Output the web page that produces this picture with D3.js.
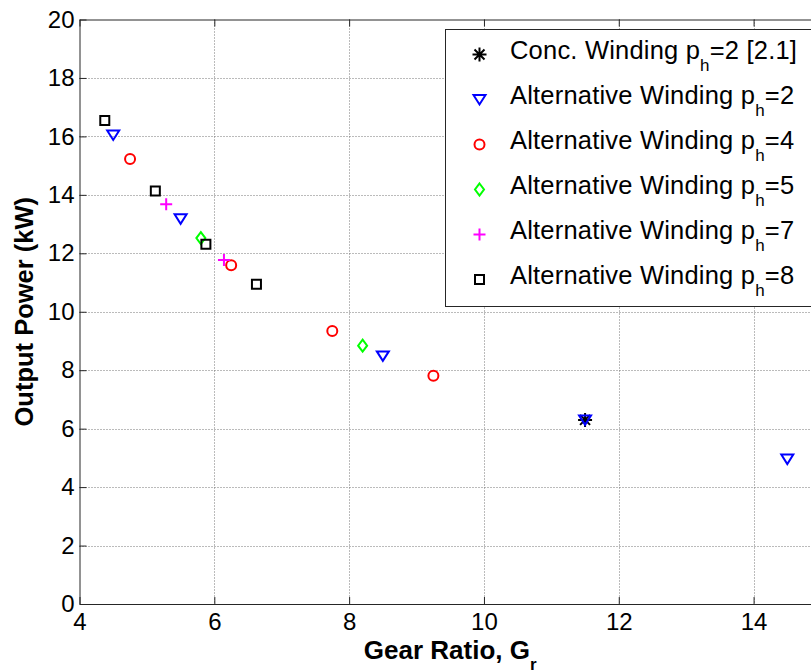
<!DOCTYPE html>
<html>
<head>
<meta charset="utf-8">
<script src="https://cdn.jsdelivr.net/npm/d3@7"></script>
<style>
  body { margin: 0; background: #fff; }
  svg { display: block; font-family: "Liberation Sans", Arial, sans-serif; }
</style>
</head>
<body>
<svg id="chart" width="811" height="671"></svg>
<script>
// data
const concX = [11.5], concY = [6.3];
const ph2X = [4.5, 5.5, 8.5, 11.5, 14.5], ph2Y = [16.05, 13.18, 8.49, 6.3, 4.96];
const ph4X = [4.75, 6.25, 7.75, 9.25], ph4Y = [15.23, 11.59, 9.34, 7.81];
const ph5X = [5.8, 8.2], ph5Y = [12.52, 8.84];
const ph7X = [5.286, 6.143], ph7Y = [13.68, 11.77];
const ph8X = [4.375, 5.125, 5.875, 6.625], ph8Y = [16.54, 14.13, 12.31, 10.94];
const xTicks = [4, 6, 8, 10, 12, 14];
const yTicks = [0, 2, 4, 6, 8, 10, 12, 14, 16, 18, 20];

const series = [
  { name: 'Conc. Winding p', sub: 'h', tail: '=2 [2.1]', xs: concX, ys: concY, mark: 'star', color: '#000' },
  { name: 'Alternative Winding p', sub: 'h', tail: '=2', xs: ph2X, ys: ph2Y, mark: 'tri', color: '#0000ff' },
  { name: 'Alternative Winding p', sub: 'h', tail: '=4', xs: ph4X, ys: ph4Y, mark: 'circle', color: '#ff0000' },
  { name: 'Alternative Winding p', sub: 'h', tail: '=5', xs: ph5X, ys: ph5Y, mark: 'diamond', color: '#00ff00' },
  { name: 'Alternative Winding p', sub: 'h', tail: '=7', xs: ph7X, ys: ph7Y, mark: 'plus', color: '#ff00ff' },
  { name: 'Alternative Winding p', sub: 'h', tail: '=8', xs: ph8X, ys: ph8Y, mark: 'square', color: '#000' }
];

const svg = d3.select('#chart');
const pLeft = 79.5, pTop = 19.5, pBottom = 604, pRight = 821;

const x = d3.scaleLinear().domain([4, 15]).range([pLeft, pRight]);
const y = d3.scaleLinear().domain([0, 20]).range([pBottom, pTop]);

// grid
const grid = svg.append('g').attr('stroke', '#777').attr('stroke-width', 1).attr('stroke-dasharray', '1,2');
grid.selectAll('.gx').data(xTicks.slice(1)).enter().append('line')
  .attr('x1', d => Math.round(x(d)) + 0.5).attr('x2', d => Math.round(x(d)) + 0.5)
  .attr('y1', pTop).attr('y2', pBottom);
grid.selectAll('.gy').data(yTicks.slice(1, -1)).enter().append('line')
  .attr('y1', d => Math.round(y(d)) + 0.5).attr('y2', d => Math.round(y(d)) + 0.5)
  .attr('x1', pLeft).attr('x2', pRight);

// axes
const axisColor = '#262626';
const gx = svg.append('g').attr('transform', 'translate(0,' + pBottom + ')')
  .call(d3.axisBottom(x).tickValues(xTicks).tickSizeInner(-7).tickSizeOuter(0).tickPadding(12));
const gxTop = svg.append('g').attr('transform', 'translate(0,' + pTop + ')')
  .call(d3.axisTop(x).tickValues(xTicks).tickSizeInner(-7).tickSizeOuter(0).tickFormat(''));
const gy = svg.append('g').attr('transform', 'translate(' + pLeft + ',0)')
  .call(d3.axisLeft(y).tickValues(yTicks).tickSizeInner(-7).tickSizeOuter(0).tickPadding(12));

[gx, gxTop, gy].forEach(g => {
  g.select('.domain').attr('stroke', axisColor);
  g.selectAll('.tick line').attr('stroke', axisColor);
  g.selectAll('text').attr('fill', '#000').style('font-size', '24px')
    .style('font-family', '"Liberation Sans", Arial, sans-serif');
});
gx.selectAll('text').attr('dy', '0.71em').attr('y', 9);
gy.selectAll('text').attr('x', -5);

// axis labels
const xl = svg.append('text').attr('x', (pLeft + pRight) / 2).attr('y', 659)
  .attr('text-anchor', 'middle').style('font-size', '26px').style('font-weight', 'bold');
xl.append('tspan').text('Gear Ratio, G');
xl.append('tspan').attr('dy', 11).style('font-size', '17px').text('r');

svg.append('text')
  .attr('transform', 'translate(33,' + ((pTop + pBottom) / 2) + ') rotate(-90)')
  .attr('text-anchor', 'middle').style('font-size', '25.5px').style('font-weight', 'bold')
  .text('Output Power (kW)');

// markers
function markerPath(type) {
  switch (type) {
    case 'tri': return 'M-6,-4.5L6,-4.5L0,5Z';
    case 'circle': return d3.symbol().type(d3.symbolCircle).size(Math.PI * 25)();
    case 'diamond': return 'M0,-6L4.5,0L0,6L-4.5,0Z';
    case 'plus': return 'M-6,0L6,0M0,-6L0,6';
    case 'square': return 'M-4.5,-4.5L4.5,-4.5L4.5,4.5L-4.5,4.5Z';
    case 'star': return 'M-7,0L7,0M0,-7L0,7M-5,-5L5,5M-5,5L5,-5';
  }
}

function drawMarker(g, s, cx, cy) {
  g.append('path')
    .attr('d', markerPath(s.mark))
    .attr('transform', 'translate(' + cx + ',' + cy + ')')
    .attr('fill', 'none')
    .attr('stroke', s.color)
    .attr('stroke-width', 2);
}

const plot = svg.append('g');
series.forEach(s => {
  const pts = s.xs.map((v, i) => [v, s.ys[i]]);
  plot.selectAll(null).data(pts).enter().append('path')
    .attr('d', markerPath(s.mark))
    .attr('transform', d => 'translate(' + x(d[0]) + ',' + y(d[1]) + ')')
    .attr('fill', 'none')
    .attr('stroke', s.color)
    .attr('stroke-width', 2);
});

// legend
const leg = svg.append('g');
leg.append('rect').attr('x', 445.5).attr('y', 29.5).attr('width', 380).attr('height', 277)
  .attr('fill', '#fff').attr('stroke', axisColor).attr('stroke-width', 1);
series.forEach((s, i) => {
  const ry = 54.5 + i * 45;
  drawMarker(leg, s, 479.5, ry);
  const t = leg.append('text').attr('x', 510).attr('y', ry + 4)
    .style('font-size', '25.5px').style('letter-spacing', '0.2px').attr('fill', '#000');
  t.append('tspan').text(s.name);
  t.append('tspan').attr('dy', 12).style('font-size', '17px').text(s.sub);
  t.append('tspan').attr('dy', -12).text(s.tail);
});
</script>
</body>
</html>
